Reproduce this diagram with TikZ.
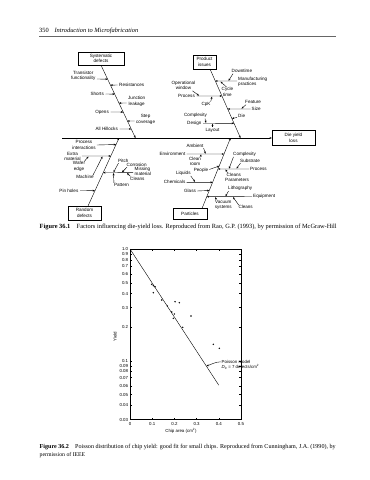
\documentclass[tikz,border=0pt]{standalone}
\usepackage{fontspec}
\usepackage{graphicx}
\setmainfont{Liberation Serif}
\setsansfont{Liberation Sans}
\usetikzlibrary{calc,arrows.meta}
\begin{document}
\begin{tikzpicture}[x=1bp,y=-1bp,
  lbl/.style={font=\sffamily\fontsize{4.6}{5.4}\selectfont, inner sep=0pt, align=center},
  fbox/.style={draw, line width=0.4bp, inner sep=0pt, align=center, font=\sffamily\fontsize{4.6}{5.4}\selectfont},
  ln/.style={line width=0.4bp},
  arr/.style={line width=0.4bp, -{Stealth[length=2.3bp,width=1.9bp]}},
  tk/.style={line width=0.35bp},
  tl/.style={font=\sffamily\fontsize{4.4}{5}\selectfont, inner sep=0pt},
  captext/.style={font=\fontsize{6.2}{8.5}\selectfont, inner sep=0pt}
]
\fill[white] (0,0) rectangle (369,480);
\useasboundingbox (0,0) rectangle (369,480);

% header
\node[anchor=west, font=\fontsize{6.4}{7}\selectfont, inner sep=0pt] (hdr) at (39,31) {\resizebox{99bp}{!}{350\hspace{0.9em}\textit{Introduction to Microfabrication}}};
\coordinate (r0) at (39,36.5); \coordinate (r1) at (336,36.5);
\draw[line width=0.5bp, black!60] (r0) -- (r1);

% ===== fishbone =====
\node[fbox, minimum width=46bp, minimum height=13bp] (sys) at (101,58.5) {Systematic\\defects};
\node[fbox, minimum width=23bp, minimum height=14bp] (prod) at (204.5,62) {Product\\issues};
\node[fbox, minimum width=43bp, minimum height=15bp] (die) at (293.5,138) {Die yield\\loss};
\node[fbox, minimum width=33bp, minimum height=14bp] (rand) at (84.5,213) {Random\\defects};
\node[fbox, minimum width=34bp, minimum height=10.5bp] (part) at (190,213.75) {Particles};

\coordinate (m0) at (62,138);
\draw[arr] (m0) -- (die.west);

\coordinate (b1e) at (135.5,138);
\coordinate (b2s) at (210,69);  \coordinate (b2e) at (240.5,138);
\coordinate (b3s) at (88,206);  \coordinate (b3e) at (119,138);
\coordinate (b4s) at (202,208.5); \coordinate (b4e) at (230.5,138);
\draw[arr] (sys.south) -- (b1e);
\draw[arr] (b2s) -- (b2e);
\draw[arr] (b3s) -- (b3e);
\draw[arr] (b4s) -- (b4e);

% points on bones
\coordinate (p1a) at ($(sys.south)!0.1918!(b1e)$);
\coordinate (p1b) at ($(sys.south)!0.274!(b1e)$);
\coordinate (p1c) at ($(sys.south)!0.3973!(b1e)$);
\coordinate (p1d) at ($(sys.south)!0.5205!(b1e)$);
\coordinate (p1e) at ($(sys.south)!0.6438!(b1e)$);
\coordinate (p1f) at ($(sys.south)!0.7671!(b1e)$);
\coordinate (p1g) at ($(sys.south)!0.8767!(b1e)$);
\coordinate (p2a) at ($(b2s)!0.1739!(b2e)$);
\coordinate (p2b) at ($(b2s)!0.3913!(b2e)$);
\coordinate (p2c) at ($(b2s)!0.5797!(b2e)$);
\coordinate (p2d) at ($(b2s)!0.7174!(b2e)$);
\coordinate (p2e) at ($(b2s)!0.787!(b2e)$);
\coordinate (p3a) at ($(b3s)!0.9044!(b3e)$);
\coordinate (p3b) at ($(b3s)!0.7353!(b3e)$);
\coordinate (p3c) at ($(b3s)!0.4897!(b3e)$);
\coordinate (p3d) at ($(b3s)!0.225!(b3e)$);
\coordinate (p4a) at ($(b4s)!0.773!(b4e)$);
\coordinate (p4b) at ($(b4s)!0.6028!(b4e)$);
\coordinate (p4c) at ($(b4s)!0.5603!(b4e)$);
\coordinate (p4d) at ($(b4s)!0.3716!(b4e)$);
\coordinate (p4e) at ($(b4s)!0.2553!(b4e)$);
\coordinate (p4f) at ($(b4s)!0.1674!(b4e)$);

% upper-left causes
\node[lbl,anchor=east] (tf) at (95.5,76) {Transistor\\functionality};
\draw[arr] ($(tf.east)+(1.5,3)$) -- (p1a);
\node[lbl,anchor=west] (res) at (119,85) {Resistances};
\draw[arr] ($(res.west)+(-1.5,0)$) -- (p1b);
\node[lbl,anchor=east] (sho) at (104,94) {Shorts};
\draw[arr] ($(sho.east)+(1.5,0)$) -- (p1c);
\node[lbl,anchor=west] (jl) at (128,101.5) {Junction\\leakage};
\draw[arr] ($(jl.west)+(-1.5,1.5)$) -- (p1d);
\node[lbl,anchor=east] (ope) at (109,112) {Opens};
\draw[arr] ($(ope.east)+(1.5,0)$) -- (p1e);
\node[lbl,anchor=west] (sc) at (136,119.5) {Step\\coverage};
\draw[arr] ($(sc.west)+(-1.5,1.5)$) -- (p1f);
\node[lbl,anchor=east] (ah) at (118,129) {All Hillocks};
\draw[arr] ($(ah.east)+(1.5,0)$) -- (p1g);

% upper-right causes
\node[lbl,anchor=west] (dt) at (231.5,71) {Downtime};
\coordinate (dtT) at (228.5,80.8);
\draw[arr] ($(dt.south west)+(1.5,0.8)$) -- (dtT);
\node[lbl,anchor=west,align=left] (mp) at (238,82) {Manufacturing\\practices};
\draw[arr] ($(mp.west)+(-1,-1)$) -- (p2a);
\node[lbl,anchor=east] (ow) at (195.5,85.5) {Operational\\window};
\coordinate (owT) at (199,95.6);
\draw[arr] ($(ow.south east)+(-3,0.8)$) -- (owT);
\node[lbl,anchor=east] (pr1) at (195,96) {Process};
\draw[arr] ($(pr1.east)+(1.5,0)$) -- (p2b);
\node[lbl,anchor=west] (ct) at (221.5,92) {Cycle\\time};
\coordinate (ctT) at (220.5,81.6);
\draw[arr] ($(ct.north)+(-1,-0.5)$) -- (ctT);
\node[lbl] (cpk) at (206,104.3) {CpK};
\coordinate (cpkT) at (212,96.6);
\draw[arr] ($(cpk.north east)+(0,-0.3)$) -- (cpkT);
\node[lbl,anchor=west] (fea) at (245,102.3) {Feature};
\coordinate (feaT) at (241.5,108.6);
\draw[arr] ($(fea.south west)+(1,0.6)$) -- (feaT);
\node[lbl,anchor=west] (siz) at (251.5,108.5) {Size};
\draw[arr] ($(siz.west)+(-1,0.5)$) -- (p2c);
\node[lbl,anchor=west] (die2) at (238,116) {Die};
\draw[arr] ($(die2.west)+(-1,1.5)$) -- (p2d);
\node[lbl] (cpx) at (195.5,115.7) {Complexity};
\coordinate (cpxT) at (206,122.9);
\draw[arr] ($(cpx.south east)+(-2,0.6)$) -- (cpxT);
\node[lbl,anchor=east] (des) at (201.7,123.3) {Design};
\draw[arr] ($(des.east)+(1.3,0)$) -- (p2e);
\node[lbl] (lay) at (212.5,130) {Layout};
\coordinate (layT) at (212.5,123.8);
\draw[arr] ($(lay.north)+(0,-0.5)$) -- (layT);

% lower-left causes
\node[lbl] (pi) at (84,145) {Process\\interactions};
\draw[arr] ($(pi.east)+(1,0)$) -- (p3a);
\node[lbl] (em) at (72.5,156.5) {Extra\\material};
\draw[arr] ($(em.east)+(1,-0.5)$) -- (p3b);
\node[lbl] (we) at (79,166.5) {Wafer\\edge};
\coordinate (weT) at (88.5,156.5);
\draw[arr] ($(we.north east)+(-1,0)$) -- (weT);
\node[lbl] (mac) at (85,177.3) {Machine};
\coordinate (macT) at (102.5,156.5);
\draw[arr] ($(mac.north east)+(-1,0)$) -- (macT);
\node[lbl,anchor=west] (pit) at (118,160.7) {Pitch};
\coordinate (pitT) at (113.5,172.3);
\draw[arr] ($(pit.south west)+(0.5,0.5)$) -- (pitT);
\node[lbl,anchor=west] (cor) at (126.5,164.8) {Corrosion};
\coordinate (corT) at (122,172.3);
\draw[arr] ($(cor.south west)+(0.5,0.5)$) -- (corT);
\node[lbl,anchor=west,align=left,font=\sffamily\fontsize{4.6}{5}\selectfont] (mm) at (134.5,171.5) {Missing\\material};
\draw[arr] ($(mm.west)+(-1.3,1.2)$) -- (p3c);
\node[lbl,anchor=west] (cle1) at (130,178.6) {Cleans};
\coordinate (cle1T) at (127,173.1);
\draw[arr] ($(cle1.north west)+(0.5,-0.3)$) -- (cle1T);
\node[lbl] (pat) at (121.5,185) {Pattern};
\coordinate (patT) at (113.5,173.1);
\draw[arr] ($(pat.north west)+(0,-0.3)$) -- (patT);
\node[lbl,anchor=east] (ph) at (78.5,190.7) {Pin holes};
\draw[arr] ($(ph.east)+(1.5,0)$) -- (p3d);

% lower-right causes
\node[lbl] (amb) at (195,146) {Ambient};
\coordinate (ambT) at (205.5,153.6);
\draw[arr] ($(amb.south east)+(0,0.3)$) -- (ambT);
\node[lbl,anchor=east] (env) at (185.5,154) {Environment};
\draw[arr] ($(env.east)+(1,0)$) -- (p4a);
\node[lbl] (cr) at (195,161.3) {Clean\\room};
\coordinate (crT) at (201,154.4);
\draw[arr] ($(cr.north east)+(-0.5,0)$) -- (crT);
\node[lbl] (peo) at (201,170) {People};
\draw[arr] ($(peo.east)+(1,-0.5)$) -- (p4b);
\node[lbl] (liq) at (183.3,173.3) {Liquids};
\coordinate (liqT) at (195,181.9);
\draw[arr] ($(liq.south east)+(0,0.3)$) -- (liqT);
\node[lbl,anchor=east] (che) at (185.5,182.3) {Chemicals};
\draw[arr] ($(che.east)+(1,0)$) -- (p4d);
\node[lbl] (gla) at (190,191) {Glass};
\draw[arr] ($(gla.east)+(1,0)$) -- (p4e);
\node[lbl,anchor=west] (cpx2) at (233,154) {Complexity};
\coordinate (cpx2T) at (229,168.6);
\draw[arr] ($(cpx2.south west)+(0.5,0.5)$) -- (cpx2T);
\node[lbl,anchor=west] (sub) at (240,160.7) {Substrate};
\coordinate (subT) at (236.5,168.6);
\draw[arr] ($(sub.south west)+(0.5,0.5)$) -- (subT);
\node[lbl,anchor=west] (pr2) at (250,169) {Process};
\draw[arr] ($(pr2.west)+(-1,0)$) -- (p4c);
\node[lbl,anchor=west] (cle2) at (226.5,175) {Cleans};
\coordinate (cle2T) at (225.5,169.4);
\draw[arr] ($(cle2.north west)+(1,-0.3)$) -- (cle2T);
\node[lbl,anchor=west] (par) at (225,179.8) {Parameters};
\node[lbl,anchor=west] (lit) at (228,188.3) {Lithography};
\coordinate (litT) at (225.5,196.3);
\draw[arr] ($(lit.south west)+(0.5,0.5)$) -- (litT);
\node[lbl,anchor=west] (equ) at (253,196.7) {Equipment};
\draw[arr] ($(equ.west)+(-1,0)$) -- (p4f);
\node[lbl] (vs) at (223.3,205) {Vacuum\\systems};
\coordinate (vsT) at (215.5,197.1);
\draw[arr] ($(vs.north west)+(1.5,0)$) -- (vsT);
\node[lbl,anchor=west] (cle3) at (238.3,207.3) {Cleans};
\coordinate (cle3T) at (233,197.1);
\draw[arr] ($(cle3.north west)+(0.5,-0.3)$) -- (cle3T);

% caption 1
\node[captext,anchor=west] (cap1) at (39.5,226.5) {\resizebox{297bp}{!}{\textbf{Figure 36.1}\hspace{1em}Factors influencing die-yield loss. Reproduced from Rao, G.P. (1993), by permission of McGraw-Hill}};

% ===== plot =====
\draw[ln] (130,249) rectangle (241,419.6);
\foreach \v/\t [count=\i] in {1/1.0,0.9/0.9,0.8/0.8,0.7/0.7,0.6/0.6,0.5/0.5,0.4/0.4,0.3/0.3,0.2/0.2,0.1/0.1,0.09/0.09,0.08/0.08,0.07/0.07,0.06/0.06,0.05/0.05,0.04/0.04,0.03/0.03} {
  \pgfmathsetmacro\yy{249-112*log10(\v)}
  \draw[tk] (130,\yy) -- (132,\yy);
  \draw[tk] (241,\yy) -- (239,\yy);
  \node[tl,anchor=east] (yl\i) at (128.3,\yy) {\t};
}
\foreach \a [count=\i] in {0,0.1,0.2,0.3,0.4,0.5} {
  \pgfmathsetmacro\xx{130+222*\a}
  \draw[tk] (\xx,419.6) -- (\xx,417.6);
  \draw[tk] (\xx,249) -- (\xx,251);
  \node[tl,anchor=north] (xl\i) at (\xx,422.5) {\a};
}
\node[tl,rotate=90] (ylab) at (115,336.7) {Yield};
\node[tl] (xlab) at (181,430.5) {Chip area (cm\textsuperscript{2})};
\coordinate (ml0) at (130,249); \coordinate (ml1) at (218.8,385.2);
\draw[ln] (ml0) -- (ml1);
\foreach \px/\py in {151.7/284.3,153.3/285.7,155/286.8,153.3/292.7,161.7/300,167.3/306,171.7/312,174.3/314,173.3/318.3,175/301.7,179.3/302.7,182.7/327.3,191/316,213.3/344.3,219.3/348.3}
  \fill (\px,\py) circle (0.8);
\node[tl,anchor=west] (pm) at (221.5,361.5) {Poisson model};
\node[tl,anchor=west] (d0) at (221.5,367) {{\itshape D}\textsubscript{0} = 7 defects/cm\textsuperscript{2}};
\coordinate (pmT) at (206.5,366);
\draw[arr] ($(pm.west)+(-0.8,0.3)$) .. controls (215,362) and (211,364.5) .. (pmT);

% caption 2
\node[captext,anchor=west] (cap2a) at (39.5,447) {\resizebox{296bp}{!}{\textbf{Figure 36.2}\hspace{1em}Poisson distribution of chip yield: good fit for small chips. Reproduced from Cunningham, J.A. (1990), by}};
\node[captext,anchor=west,font=\fontsize{5.8}{7}\selectfont] (cap2b) at (39.5,455.5) {permission of IEEE};
\end{tikzpicture}
\end{document}
